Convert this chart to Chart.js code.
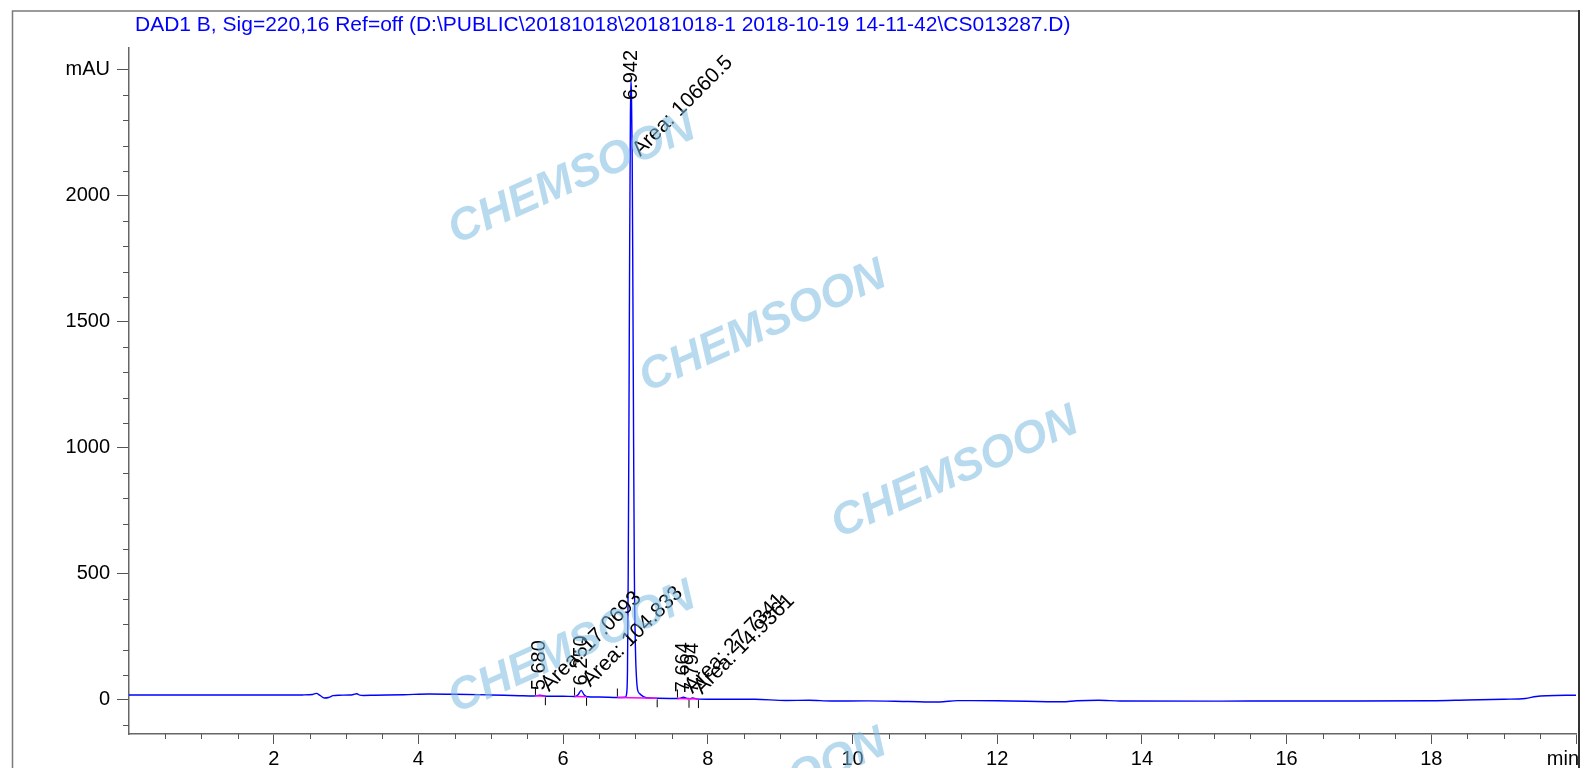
<!DOCTYPE html>
<html>
<head>
<meta charset="utf-8">
<script src="https://cdn.jsdelivr.net/npm/chart.js@4.4.1/dist/chart.umd.min.js"></script>
<style>
  html, body { margin: 0; padding: 0; background: #fff; }
  #wrap { width: 1581px; height: 768px; }
</style>
</head>
<body>
<div id="wrap"><canvas id="chrom" width="1581" height="768"></canvas></div>
<script>
// DAD1 B chromatogram (time in min, signal in mAU)
var retTime = [
  0, 0.5, 1.0, 1.5, 2.0, 2.4, 2.54, 2.59, 2.64, 2.70, 2.76, 2.82, 2.9,
  3.05, 3.12, 3.15, 3.19, 3.24, 3.4, 3.8, 4.15, 4.5, 5.0, 5.4, 5.6, 5.68, 5.76,
  6.0, 6.17, 6.21, 6.25, 6.29, 6.33, 6.5, 6.75, 6.86, 6.88, 6.89, 6.90, 6.91,
  6.92, 6.93, 6.937, 6.945, 6.955, 6.965, 6.975, 6.985, 7.0, 7.015, 7.03, 7.06,
  7.1, 7.15, 7.3, 7.6, 7.664, 7.72, 7.76, 7.794, 7.84, 8.0, 8.65, 9.08, 9.4,
  9.71, 10.2, 10.77, 11.2, 11.45, 12.0, 12.9, 13.1, 13.4, 13.7, 15.0, 16.0,
  17.0, 18.0, 18.5, 19.0, 19.3, 19.45, 19.6, 20
];
var signal = [
  20, 20, 19.5, 19.5, 19.5, 20, 22, 26, 18, 8, 10, 17, 19,
  19.5, 23, 25, 19, 18, 19, 21, 24, 23, 20, 17, 16, 19, 15,
  14.5, 14, 22, 38, 21, 13, 12, 10, 11, 30, 120, 500, 1100,
  1800, 2300, 2460, 2400, 2150, 1600, 1000, 500, 200, 85, 40, 25,
  15, 9, 7, 6, 11, 6, 5.5, 8, 4.5, 3, 2.6, -2, -1.3,
  -4, -3.5, -6, -8, -2.6, -3, -7, -3, -1.3, -4, -4.5, -4,
  -4, -3, 0, 3, 6, 14, 17, 19
];

// integrated peaks
var peakRT    = [5.680, 6.250, 6.942, 7.664, 7.794];
var peakNames = ['5.680', '6.250', '6.942', '7.664', '7.794'];
var peakAreas = ['17.0693', '104.833', '10660.5', '27.7341', '14.9361'];

// integration baselines (magenta)
var baseFrom    = [5.617, 6.158, 6.75, 7.58];
var baseFromVal = [16.5, 14, 10, 6];
var baseTo      = [5.755, 6.324, 7.30, 7.87];
var baseToVal   = [15, 13, 7, 3.5];

// peak start / end marks
var startMarkTime = [5.617, 6.158, 6.75, 7.58];
var startMarkVal  = [16.5, 14, 10, 6];
var endMarkTime   = [5.755, 6.324, 7.30, 7.74, 7.87];
var endMarkVal    = [15, 13, 7, 5, 3.5];

// axes
var xMajorTicks = [2, 4, 6, 8, 10, 12, 14, 16, 18, 20];
var yMajorTicks = [0, 500, 1000, 1500, 2000, 2500];

var titleText = 'DAD1 B, Sig=220,16 Ref=off (D:\\PUBLIC\\20181018\\20181018-1 2018-10-19 14-11-42\\CS013287.D)';
var FONT = '"Liberation Sans", Arial, sans-serif';

var xMinorTicks = [];
for (var t = 0.5; t < 20; t += 0.5) {
    if (t % 2 !== 0) xMinorTicks.push(t);
}
var yMinorTicks = [];
for (var v = -100; v < 2500; v += 100) {
    if (v % 500 !== 0) yMinorTicks.push(v);
}

function tickImage(up) {
    var c = document.createElement('canvas');
    c.width = 3;
    c.height = 20;
    var g = c.getContext('2d');
    g.fillStyle = '#000';
    if (up) g.fillRect(1, 1, 1, 8);
    else g.fillRect(1, 11, 1, 8);
    return c;
}

function zipXY(xs, ys) {
    return xs.map(function (x, i) { return { x: x, y: ys[i] }; });
}

var baselineData = [];
baseFrom.forEach(function (t, i) {
    baselineData.push({ x: t, y: baseFromVal[i] });
    baselineData.push({ x: baseTo[i], y: baseToVal[i] });
    baselineData.push({ x: baseTo[i] + 0.001, y: null });
});

// frame + title behind everything
var framePlugin = {
    id: 'frame',
    beforeDraw: function (chart) {
        var ctx = chart.ctx;
        ctx.save();
        ctx.fillStyle = '#fff';
        ctx.fillRect(0, 0, chart.width, chart.height);
        ctx.strokeStyle = '#7a7a7a';
        ctx.lineWidth = 1.5;
        ctx.beginPath();
        ctx.moveTo(12.5, 800);
        ctx.lineTo(12.5, 11);
        ctx.lineTo(1579, 11);
        ctx.stroke();
        ctx.strokeStyle = '#333';
        ctx.lineWidth = 2;
        ctx.beginPath();
        ctx.moveTo(1579, 10);
        ctx.lineTo(1579, 768);
        ctx.stroke();
        ctx.fillStyle = '#0000ff';
        ctx.font = '21px ' + FONT;
        ctx.textBaseline = 'middle';
        ctx.textAlign = 'left';
        ctx.fillText(titleText, 135, 25);
        ctx.restore();
    }
};

// minor ticks and the "min" unit label
var minorTicksPlugin = {
    id: 'minorTicks',
    afterDraw: function (chart) {
        var ctx = chart.ctx;
        var xs = chart.scales.x, ys = chart.scales.y;
        ctx.save();
        ctx.strokeStyle = '#555';
        ctx.lineWidth = 1;
        ctx.beginPath();
        xMinorTicks.forEach(function (t) {
            var px = Math.round(xs.getPixelForValue(t)) + 0.5;
            ctx.moveTo(px, xs.top);
            ctx.lineTo(px, xs.top + 5);
        });
        yMinorTicks.forEach(function (v) {
            var py = Math.round(ys.getPixelForValue(v)) + 0.5;
            ctx.moveTo(ys.right - 6, py);
            ctx.lineTo(ys.right, py);
        });
        ctx.stroke();
        ctx.fillStyle = '#000';
        ctx.font = '20px ' + FONT;
        ctx.textAlign = 'right';
        ctx.textBaseline = 'middle';
        ctx.fillText('min', 1579, 759);
        ctx.restore();
    }
};

// retention time + area labels
var peakLabelPlugin = {
    id: 'peakLabels',
    afterDatasetsDraw: function (chart) {
        var ctx = chart.ctx;
        var xs = chart.scales.x, ys = chart.scales.y;
        var top = chart.chartArea.top;
        ctx.save();
        ctx.fillStyle = '#000';
        peakRT.forEach(function (rt, i) {
            var apex = -Infinity;
            retTime.forEach(function (t, j) {
                if (Math.abs(t - rt) <= 0.02 && signal[j] > apex) apex = signal[j];
            });
            var px = xs.getPixelForValue(rt);
            var py = ys.getPixelForValue(apex);

            ctx.font = '20px ' + FONT;
            var name = peakNames[i];
            var w = ctx.measureText(name).width;
            var bottom = py - 5;
            if (bottom - w < top + 2) bottom = top + 2 + w;
            ctx.save();
            ctx.translate(px, bottom);
            ctx.rotate(-Math.PI / 2);
            ctx.textAlign = 'left';
            ctx.textBaseline = 'middle';
            ctx.fillText(name, 0, 0);
            ctx.restore();

            ctx.font = '21px ' + FONT;
            var area = 'Area: ' + peakAreas[i];
            var wa = ctx.measureText(area).width;
            var ay = py - 3;
            var need = top + 5 + (wa + 15) * Math.SQRT1_2;
            if (ay < need) ay = need;
            ctx.save();
            ctx.translate(px + 9, ay);
            ctx.rotate(-Math.PI / 4);
            ctx.textAlign = 'left';
            ctx.textBaseline = 'alphabetic';
            ctx.fillText(area, 0, 0);
            ctx.restore();
        });
        ctx.restore();
    }
};

// CHEMSOON watermark on top
var watermarkPlugin = {
    id: 'watermark',
    afterDraw: function (chart) {
        var ctx = chart.ctx;
        var spots = [[572, 179], [763, 327], [955, 473], [572, 648], [763, 795]];
        ctx.save();
        ctx.fillStyle = 'rgba(125, 188, 226, 0.55)';
        ctx.strokeStyle = 'rgba(125, 188, 226, 0.55)';
        ctx.lineWidth = 1.5;
        ctx.lineJoin = 'round';
        ctx.font = 'italic bold 45px ' + FONT;
        ctx.textAlign = 'center';
        ctx.textBaseline = 'middle';
        spots.forEach(function (s) {
            ctx.save();
            ctx.translate(s[0], s[1]);
            ctx.rotate(-24 * Math.PI / 180);
            ctx.fillText('CHEMSOON', 0, 0);
            ctx.restore();
        });
        ctx.restore();
    }
};

new Chart(document.getElementById('chrom'), {
    type: 'line',
    data: {
        datasets: [
            {
                label: 'baseline',
                data: baselineData,
                borderColor: '#ff00ff',
                borderWidth: 1.5,
                pointRadius: 0,
                spanGaps: false,
                order: 1,
            },
            {
                label: 'start',
                data: zipXY(startMarkTime, startMarkVal),
                showLine: false,
                pointStyle: tickImage(true),
                order: 0,
            },
            {
                label: 'end',
                data: zipXY(endMarkTime, endMarkVal),
                showLine: false,
                pointStyle: tickImage(false),
                order: 0,
            },
            {
                label: 'DAD1 B',
                data: zipXY(retTime, signal),
                borderColor: '#0000ff',
                borderWidth: 1.4,
                pointRadius: 0,
                cubicInterpolationMode: 'monotone',
                order: 2,
            },
        ],
    },
    options: {
        responsive: false,
        animation: false,
        events: [],
        layout: { padding: { left: 0, top: 48, right: 2, bottom: 0 } },
        plugins: {
            legend: { display: false },
            tooltip: { enabled: false },
            title: { display: false },
        },
        scales: {
            x: {
                type: 'linear',
                min: 0,
                max: 20,
                afterBuildTicks: function (axis) {
                    axis.ticks = xMajorTicks.map(function (v) { return { value: v }; });
                },
                afterFit: function (axis) { axis.height = 34; },
                ticks: {
                    color: '#000',
                    font: { family: FONT, size: 20 },
                    padding: 3,
                    maxRotation: 0,
                    callback: function (value) { return value === 20 ? '' : String(value); },
                },
                grid: { drawOnChartArea: false, drawTicks: true, tickLength: 10, color: '#555' },
                border: { display: true, color: '#666', width: 1.5 },
            },
            y: {
                type: 'linear',
                min: -135,
                max: 2587,
                afterBuildTicks: function (axis) {
                    axis.ticks = yMajorTicks.map(function (v) { return { value: v }; });
                },
                afterFit: function (axis) { axis.width = 129; },
                ticks: {
                    color: '#000',
                    font: { family: FONT, size: 20 },
                    padding: 7,
                    callback: function (value) { return value === 2500 ? 'mAU' : String(value); },
                },
                grid: { drawOnChartArea: false, drawTicks: true, tickLength: 12, color: '#555' },
                border: { display: true, color: '#666', width: 1.5 },
            },
        },
    },
    plugins: [framePlugin, minorTicksPlugin, peakLabelPlugin, watermarkPlugin],
});
</script>
</body>
</html>
